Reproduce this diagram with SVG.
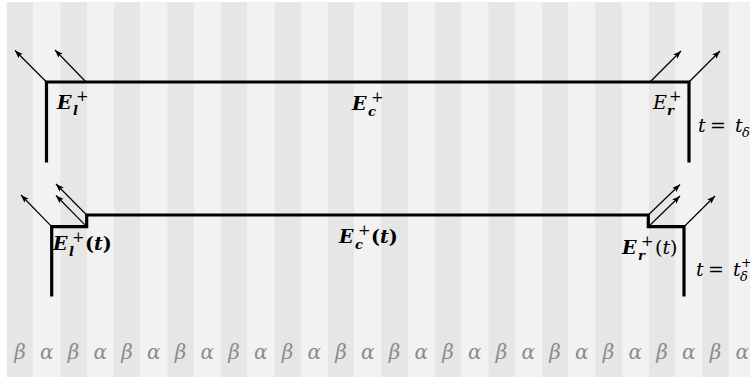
<svg xmlns="http://www.w3.org/2000/svg" width="750" height="377" viewBox="0 0 750 377">
<defs>
<style>
.d{fill:#e6e6e6}
.l{fill:#f2f2f2}
.wall{fill:none;stroke:#000;stroke-width:3.2;stroke-linejoin:miter;stroke-linecap:butt}
.arr{stroke:#000;stroke-width:1.2;fill:none;marker-end:url(#ah)}
.m{font-family:"DejaVu Serif","Liberation Serif",serif;font-style:italic;fill:#000}
.b{font-weight:bold}
.r{font-family:"DejaVu Serif","Liberation Serif",serif;font-style:normal;fill:#000}
.g{font-family:"DejaVu Serif","Liberation Serif",serif;font-style:italic;fill:#8c8c8c;font-size:20px;text-anchor:middle}
</style>
<marker id="ah" markerUnits="userSpaceOnUse" markerWidth="10" markerHeight="8" refX="8" refY="3" orient="auto">
<path d="M0,0 L8,3 L0,6 L1.6,3 z" fill="#000"/>
</marker>
</defs>
<rect width="750" height="377" fill="#fff"/>
<g id="stripes">
<rect class="d" x="6.7" y="2" width="26.75" height="375"/>
<rect class="l" x="33.45" y="2" width="26.75" height="375"/>
<rect class="d" x="60.2" y="2" width="26.75" height="375"/>
<rect class="l" x="86.95" y="2" width="26.75" height="375"/>
<rect class="d" x="113.7" y="2" width="26.75" height="375"/>
<rect class="l" x="140.45" y="2" width="26.75" height="375"/>
<rect class="d" x="167.2" y="2" width="26.75" height="375"/>
<rect class="l" x="193.95" y="2" width="26.75" height="375"/>
<rect class="d" x="220.7" y="2" width="26.75" height="375"/>
<rect class="l" x="247.45" y="2" width="26.75" height="375"/>
<rect class="d" x="274.2" y="2" width="26.75" height="375"/>
<rect class="l" x="300.95" y="2" width="26.75" height="375"/>
<rect class="d" x="327.7" y="2" width="26.75" height="375"/>
<rect class="l" x="354.45" y="2" width="26.75" height="375"/>
<rect class="d" x="381.2" y="2" width="26.75" height="375"/>
<rect class="l" x="407.95" y="2" width="26.75" height="375"/>
<rect class="d" x="434.7" y="2" width="26.75" height="375"/>
<rect class="l" x="461.45" y="2" width="26.75" height="375"/>
<rect class="d" x="488.2" y="2" width="26.75" height="375"/>
<rect class="l" x="514.95" y="2" width="26.75" height="375"/>
<rect class="d" x="541.7" y="2" width="26.75" height="375"/>
<rect class="l" x="568.45" y="2" width="26.75" height="375"/>
<rect class="d" x="595.2" y="2" width="26.75" height="375"/>
<rect class="l" x="621.95" y="2" width="26.75" height="375"/>
<rect class="d" x="648.7" y="2" width="26.75" height="375"/>
<rect class="l" x="675.45" y="2" width="26.75" height="375"/>
<rect class="d" x="702.2" y="2" width="26.75" height="375"/>
<rect class="l" x="728.95" y="2" width="26.75" height="375"/>
</g>
<g id="phase-labels">
<text class="g" x="20.1" y="359">β</text>
<text class="g" x="46.8" y="359">α</text>
<text class="g" x="73.6" y="359">β</text>
<text class="g" x="100.3" y="359">α</text>
<text class="g" x="127.1" y="359">β</text>
<text class="g" x="153.8" y="359">α</text>
<text class="g" x="180.6" y="359">β</text>
<text class="g" x="207.3" y="359">α</text>
<text class="g" x="234.1" y="359">β</text>
<text class="g" x="260.8" y="359">α</text>
<text class="g" x="287.6" y="359">β</text>
<text class="g" x="314.3" y="359">α</text>
<text class="g" x="341.1" y="359">β</text>
<text class="g" x="367.8" y="359">α</text>
<text class="g" x="394.6" y="359">β</text>
<text class="g" x="421.3" y="359">α</text>
<text class="g" x="448.1" y="359">β</text>
<text class="g" x="474.8" y="359">α</text>
<text class="g" x="501.6" y="359">β</text>
<text class="g" x="528.3" y="359">α</text>
<text class="g" x="555.1" y="359">β</text>
<text class="g" x="581.8" y="359">α</text>
<text class="g" x="608.6" y="359">β</text>
<text class="g" x="635.3" y="359">α</text>
<text class="g" x="662.1" y="359">β</text>
<text class="g" x="688.8" y="359">α</text>
<text class="g" x="715.6" y="359">β</text>
<text class="g" x="742.3" y="359">α</text>
</g>
<g id="wall-top">
<path class="wall" d="M46.5,162.5 V82 H689 V162.5"/>
</g>
<g id="wall-bottom">
<path class="wall" d="M51.7,296.5 V226.7 H86.7 V215 H648.3 V226.7 H684 V296.5"/>
</g>
<g id="connectors">
<line class="arr" x1="46.5" y1="82" x2="15" y2="50.5"/>
<line class="arr" x1="86" y1="82" x2="55" y2="50"/>
<line class="arr" x1="650" y1="82" x2="681" y2="51"/>
<line class="arr" x1="689" y1="82" x2="720" y2="51"/>
<line class="arr" x1="51.7" y1="226.7" x2="21" y2="195"/>
<line class="arr" x1="86.7" y1="226.7" x2="56" y2="195.5"/>
<line class="arr" x1="86.7" y1="215" x2="56" y2="184"/>
<line class="arr" x1="648.3" y1="226.7" x2="680" y2="196"/>
<line class="arr" x1="648.3" y1="215" x2="680" y2="184.5"/>
<line class="arr" x1="684" y1="226.7" x2="715" y2="196"/>
</g>
<g id="label-El">
<text class="m b" x="57" y="109" font-size="19">E</text>
<text class="m b" x="73" y="115" font-size="13">l</text>
<text class="r" x="76" y="101" font-size="15">+</text>
</g>
<g id="label-Ec">
<text class="m b" x="352" y="110" font-size="19">E</text>
<text class="m b" x="368" y="116" font-size="13">c</text>
<text class="r" x="371" y="102" font-size="15">+</text>
</g>
<g id="label-Er">
<text class="m" x="653" y="109" font-size="19">E</text>
<text class="m b" x="667" y="115" font-size="13">r</text>
<text class="r" x="669" y="101" font-size="15">+</text>
</g>
<g id="label-t1">
<text class="m" x="698" y="132" font-size="19">t</text>
<text class="r" x="710" y="132" font-size="19">=</text>
<text class="m" x="735" y="132" font-size="19">t</text>
<text class="m" x="742" y="137" font-size="13">δ</text>
</g>
<g id="label-El-t">
<text class="m b" x="53" y="250" font-size="19">E</text>
<text class="m b" x="69" y="256" font-size="13">l</text>
<text class="r" x="72" y="242" font-size="15">+</text>
<text class="r b" x="85" y="250" font-size="19">(<tspan class="m b">t</tspan>)</text>
</g>
<g id="label-Ec-t">
<text class="m b" x="339" y="243" font-size="19">E</text>
<text class="m b" x="355" y="249" font-size="13">c</text>
<text class="r" x="358" y="235" font-size="15">+</text>
<text class="r b" x="371" y="243" font-size="19">(<tspan class="m b">t</tspan>)</text>
</g>
<g id="label-Er-t">
<text class="m b" x="622" y="254" font-size="19">E</text>
<text class="m b" x="638" y="260" font-size="13">r</text>
<text class="r" x="641" y="246" font-size="15">+</text>
<text class="r" x="655" y="254" font-size="19">(<tspan class="m">t</tspan>)</text>
</g>
<g id="label-t2">
<text class="m" x="696" y="276" font-size="19">t</text>
<text class="r" x="708" y="276" font-size="19">=</text>
<text class="m" x="733" y="276" font-size="19">t</text>
<text class="m" x="740" y="281" font-size="13">δ</text>
<text class="r" x="741" y="267" font-size="13">+</text>
</g>
</svg>
